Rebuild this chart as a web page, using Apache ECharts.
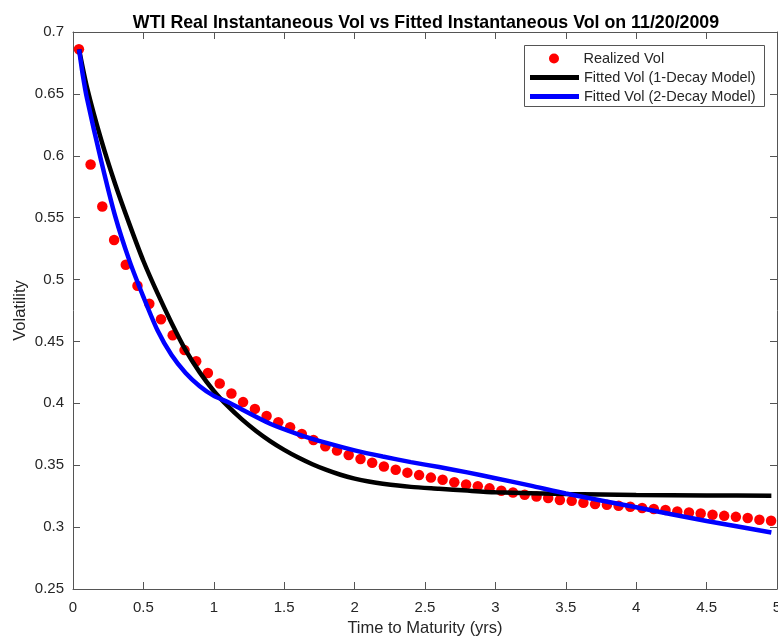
<!DOCTYPE html>
<html>
<head>
<meta charset="utf-8">
<title>WTI Real vs Fitted Instantaneous Vol</title>
<script src="https://cdn.jsdelivr.net/npm/echarts@6/dist/echarts.min.js"></script>
<style>
  html, body { margin: 0; padding: 0; background: #fff; }
  #content { width: 778px; height: 637px; }
</style>
</head>
<body>
<div id="content"></div>
<script>
// realized vol, one point per month of maturity
var realizedT = [0.042, 0.125, 0.208, 0.292, 0.375, 0.458, 0.542, 0.625, 0.708, 0.792,
    0.875, 0.958, 1.042, 1.125, 1.208, 1.292, 1.375, 1.458, 1.542, 1.625,
    1.708, 1.792, 1.875, 1.958, 2.042, 2.125, 2.208, 2.292, 2.375, 2.458,
    2.542, 2.625, 2.708, 2.792, 2.875, 2.958, 3.042, 3.125, 3.208, 3.292,
    3.375, 3.458, 3.542, 3.625, 3.708, 3.792, 3.875, 3.958, 4.042, 4.125,
    4.208, 4.292, 4.375, 4.458, 4.542, 4.625, 4.708, 4.792, 4.875, 4.958];
var realizedVol = [0.686, 0.593, 0.559, 0.532, 0.512, 0.495, 0.4805, 0.468, 0.455, 0.443,
    0.434, 0.4245, 0.416, 0.408, 0.401, 0.3955, 0.3897, 0.3847, 0.3807, 0.3753,
    0.3704, 0.3653, 0.3618, 0.3583, 0.355, 0.352, 0.349, 0.3464, 0.344, 0.342,
    0.340, 0.3383, 0.3363, 0.3344, 0.3331, 0.3313, 0.3294, 0.328, 0.3262, 0.3248,
    0.3235, 0.3219, 0.3212, 0.3197, 0.3186, 0.318, 0.3172, 0.3164, 0.3154, 0.3146,
    0.3138, 0.3126, 0.3118, 0.311, 0.31, 0.3091, 0.3083, 0.3073, 0.3059, 0.3051];

// fitted curves
var fit1T = [0.043, 0.1, 0.2, 0.3, 0.4, 0.5, 0.6, 0.7, 0.8, 0.9, 1.0, 1.1, 1.2, 1.3, 1.4,
    1.5, 1.6, 1.7, 1.8, 1.9, 2.0, 2.1, 2.2, 2.4, 2.6, 2.8, 3.0, 3.5, 4.0, 4.5, 4.96];
var fit1Vol = [0.686, 0.655, 0.613, 0.577, 0.545, 0.515, 0.489, 0.465, 0.443, 0.425, 0.410,
    0.3977, 0.387, 0.3777, 0.3695, 0.3624, 0.3562, 0.3508, 0.3462, 0.3423, 0.3392, 0.3368,
    0.335, 0.3325, 0.331, 0.3295, 0.3282, 0.3268, 0.326, 0.3256, 0.3253];

var fit2T = [0.043, 0.07, 0.1, 0.2, 0.3, 0.4, 0.5, 0.6, 0.7, 0.8, 0.9, 1.0, 1.1, 1.2, 1.4,
    1.6, 1.8, 2.0, 2.2, 2.4, 2.6, 2.8, 3.0, 3.25, 3.5, 4.0, 4.5, 4.96];
var fit2Vol = [0.686, 0.665, 0.646, 0.596, 0.551, 0.5155, 0.486, 0.459, 0.439, 0.4245,
    0.4138, 0.406, 0.401, 0.395, 0.3835, 0.375, 0.368, 0.362, 0.357, 0.3525, 0.3485,
    0.3442, 0.3395, 0.3335, 0.3272, 0.316, 0.305, 0.2956];

var xTicks = [0, 5, 0.5];       // min, max, step
var yTicks = [0.25, 0.7, 0.05];

function pairs(xs, ys) {
    var out = [];
    for (var i = 0; i < xs.length; i++) out.push([xs[i], ys[i]]);
    return out;
}

var axisColor = '#555555';
var textColor = '#262626';
var font = '"Liberation Sans", Arial, sans-serif';

function boxAxis(pos, range, show) {
    return {
        type: 'value',
        position: pos,
        min: range[0],
        max: range[1],
        interval: range[2],
        axisLine: { show: true, onZero: false, lineStyle: { color: axisColor, width: 1 } },
        axisTick: { show: true, inside: true, length: 7, lineStyle: { color: axisColor } },
        axisLabel: { show: show, color: textColor, fontSize: 15, fontFamily: font, margin: 9 },
        splitLine: { show: false }
    };
}

var xBottom = boxAxis('bottom', xTicks, true);
xBottom.axisLabel.margin = 11;
xBottom.name = 'Time to Maturity (yrs)';
xBottom.nameLocation = 'middle';
xBottom.nameGap = 31;
xBottom.nameTextStyle = { color: textColor, fontSize: 16.5, fontFamily: font };
var xTop = boxAxis('top', xTicks, false);

var yLeft = boxAxis('left', yTicks, true);
yLeft.name = 'Volatility';
yLeft.nameLocation = 'middle';
yLeft.nameGap = 44;
yLeft.nameMoveOverlap = false;
yLeft.nameTextStyle = { color: textColor, fontSize: 16.5, fontFamily: font };
var yRight = boxAxis('right', yTicks, false);

var option = {
    backgroundColor: '#ffffff',
    animation: false,
    title: {
        text: 'WTI Real Instantaneous Vol vs Fitted Instantaneous Vol on 11/20/2009',
        left: 421,
        textAlign: 'center',
        top: 9,
        textStyle: { color: '#000', fontSize: 17.8, fontWeight: 'bold', fontFamily: font }
    },
    grid: { left: 73, top: 32, right: 1, bottom: 48, containLabel: false, outerBoundsMode: 'none' },
    legend: [{
        data: [{ name: 'Realized Vol', icon: 'circle' }],
        orient: 'vertical',
        left: 549,
        top: 51,
        itemWidth: 49,
        itemHeight: 10,
        padding: 0,
        textStyle: { color: textColor, fontSize: 14.5, fontFamily: font }
    }, {
        data: [
            { name: 'Fitted Vol (1-Decay Model)', icon: 'rect' },
            { name: 'Fitted Vol (2-Decay Model)', icon: 'rect' }
        ],
        orient: 'vertical',
        left: 530,
        top: 70,
        itemWidth: 49,
        itemHeight: 5,
        itemGap: 4,
        padding: 0,
        textStyle: { color: textColor, fontSize: 14.5, fontFamily: font }
    }],
    graphic: [{
        type: 'rect',
        shape: { x: 524.5, y: 45.5, width: 240, height: 61 },
        style: { fill: '#fff', stroke: axisColor, lineWidth: 1 },
        z: 4
    }],
    xAxis: [xBottom, xTop],
    yAxis: [yLeft, yRight],
    series: [{
        name: 'Realized Vol',
        type: 'scatter',
        symbol: 'circle',
        symbolSize: 10.5,
        itemStyle: { color: '#ff0000', opacity: 1 },
        data: pairs(realizedT, realizedVol)
    }, {
        name: 'Fitted Vol (1-Decay Model)',
        type: 'line',
        smooth: 0.25,
        showSymbol: false,
        symbol: 'none',
        color: '#000000',
        lineStyle: { color: '#000000', width: 4.5 },
        data: pairs(fit1T, fit1Vol)
    }, {
        name: 'Fitted Vol (2-Decay Model)',
        type: 'line',
        smooth: 0.25,
        showSymbol: false,
        symbol: 'none',
        color: '#0000ff',
        lineStyle: { color: '#0000ff', width: 4.5 },
        data: pairs(fit2T, fit2Vol)
    }]
};

var myChart = echarts.init(document.getElementById('content'));
myChart.setOption(option);
</script>
</body>
</html>
